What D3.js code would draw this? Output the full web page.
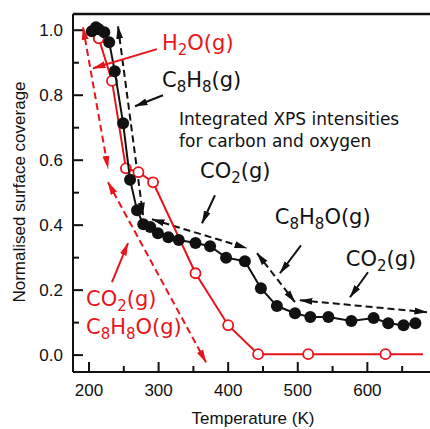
<!DOCTYPE html>
<html>
<head>
<meta charset="utf-8">
<script src="https://cdn.jsdelivr.net/npm/d3@7"></script>
<style>
  body { margin: 0; background: #fff; }
  svg { display: block; }
</style>
</head>
<body>
<div id="chart"></div>
<script>
// integrated XPS intensities (black, filled)
const blackTemp = [204, 210, 214, 222, 229, 237, 249, 259, 269, 278, 288, 299, 314, 329, 353, 374, 397, 424, 447, 470, 496, 518, 544, 577, 609, 630, 652, 669];
const blackCov = [0.997, 1.009, 1.003, 0.994, 0.963, 0.874, 0.714, 0.54, 0.446, 0.403, 0.394, 0.375, 0.363, 0.354, 0.345, 0.335, 0.3, 0.289, 0.206, 0.151, 0.129, 0.117, 0.117, 0.105, 0.114, 0.098, 0.092, 0.098];

// red open circles
const redTemp = [214, 233, 253, 271, 292, 353, 400, 443, 515, 626];
const redCov = [0.975, 0.844, 0.575, 0.563, 0.532, 0.252, 0.092, 0.003, 0.003, 0.003];
const redTail = [680, 0.003];

const xTicks = [200, 300, 400, 500, 600];
const xMinor = [250, 350, 450, 550, 650];
const yTicks = [0, 0.2, 0.4, 0.6, 0.8, 1.0];
const yMinor = [0.1, 0.3, 0.5, 0.7, 0.9];

// annotation arrows: [t1, v1, t2, v2]
const blackDashed = [
  [241.7, 1.012, 277.6, 0.431],
  [290.5, 0.418, 427, 0.329],
  [441.4, 0.314, 496, 0.163],
  [503, 0.169, 685.6, 0.132]
];
const blackPointers = [
  [306.3, 0.8, 266.1, 0.766],
  [381, 0.492, 362.4, 0.406],
  [504.6, 0.338, 474.4, 0.252],
  [600.9, 0.255, 575, 0.178]
];
const redDashed = [
  [191.4, 1.009, 227.3, 0.575],
  [227.3, 0.532, 368.1, -0.022]
];
const redPointers = [
  [297.7, 0.942, 205.7, 0.883],
  [233, 0.225, 256, 0.345]
];

// labels: [text, t, v, colour]  (_n = subscript)
const labels = [
  ["H_2O(g)", 304.9, 0.923, "#e8141b"],
  ["C_8H_8(g)", 304.9, 0.809, "#111"],
  ["CO_2(g)", 359.5, 0.529, "#111"],
  ["C_8H_8O(g)", 467, 0.388, "#111"],
  ["CO_2(g)", 569, 0.258, "#111"],
  ["CO_2(g)", 195.7, 0.135, "#e8141b"],
  ["C_8H_8O(g)", 195.7, 0.049, "#e8141b"]
];
const noteLines = ["Integrated XPS intensities", "for carbon and oxygen"];

const width = 430, height = 429;
const red = "#e8141b";

const x = d3.scaleLinear().domain([177, 690]).range([73, 430]);
const y = d3.scaleLinear().domain([-0.052, 1.05]).range([372, 14]);

const svg = d3.select("#chart").append("svg")
  .attr("width", width)
  .attr("height", height)
  .style("font-family", "'Liberation Sans', Arial, sans-serif");

// arrowheads
const defs = svg.append("defs");
[["head-black", "#111"], ["head-red", red]].forEach(([id, c]) => {
  defs.append("marker")
    .attr("id", id)
    .attr("markerUnits", "userSpaceOnUse")
    .attr("viewBox", "0 0 13 8")
    .attr("markerWidth", 13)
    .attr("markerHeight", 8)
    .attr("refX", 12.5)
    .attr("refY", 4)
    .attr("orient", "auto-start-reverse")
    .append("path")
    .attr("d", "M0,0.5 L13,4 L0,7.5 Z")
    .attr("fill", c);
});

// frame
svg.append("line").attr("x1", x.range()[0]).attr("x2", width).attr("y1", y.range()[1]).attr("y2", y.range()[1])
  .attr("stroke", "#111").attr("stroke-width", 2.5);
svg.append("line").attr("x1", x.range()[0]).attr("x2", x.range()[0]).attr("y1", y.range()[1]).attr("y2", y.range()[0])
  .attr("stroke", "#111").attr("stroke-width", 2);
svg.append("line").attr("x1", x.range()[0]).attr("x2", width).attr("y1", y.range()[0]).attr("y2", y.range()[0])
  .attr("stroke", "#111").attr("stroke-width", 2);

// x ticks (inward)
const xAxis = svg.append("g");
xAxis.selectAll(".maj").data(xTicks).enter().append("line")
  .attr("x1", d => x(d)).attr("x2", d => x(d))
  .attr("y1", y.range()[0]).attr("y2", y.range()[0] - 10)
  .attr("stroke", "#111").attr("stroke-width", 2);
xAxis.selectAll(".min").data(xMinor).enter().append("line")
  .attr("x1", d => x(d)).attr("x2", d => x(d))
  .attr("y1", y.range()[0]).attr("y2", y.range()[0] - 6)
  .attr("stroke", "#111").attr("stroke-width", 2);
xAxis.selectAll("text").data(xTicks).enter().append("text")
  .attr("x", d => x(d)).attr("y", 396)
  .attr("text-anchor", "middle")
  .style("font-size", "17px")
  .attr("fill", "#111")
  .text(d => d);

// y ticks (inward)
const yAxis = svg.append("g");
yAxis.selectAll(".maj").data(yTicks).enter().append("line")
  .attr("x1", x.range()[0]).attr("x2", x.range()[0] + 10)
  .attr("y1", d => y(d)).attr("y2", d => y(d))
  .attr("stroke", "#111").attr("stroke-width", 2);
yAxis.selectAll(".min").data(yMinor).enter().append("line")
  .attr("x1", x.range()[0]).attr("x2", x.range()[0] + 6)
  .attr("y1", d => y(d)).attr("y2", d => y(d))
  .attr("stroke", "#111").attr("stroke-width", 2);
yAxis.selectAll("text").data(yTicks).enter().append("text")
  .attr("x", 63).attr("y", d => y(d) + 6)
  .attr("text-anchor", "end")
  .style("font-size", "17px")
  .attr("fill", "#111")
  .text(d => d3.format(".1f")(d));

// axis titles
svg.append("text")
  .attr("x", 253).attr("y", 424)
  .attr("text-anchor", "middle")
  .style("font-size", "17px")
  .attr("fill", "#111")
  .text("Temperature (K)");
svg.append("text")
  .attr("transform", "translate(25,192) rotate(-90)")
  .attr("text-anchor", "middle")
  .style("font-size", "17px")
  .attr("fill", "#111")
  .text("Normalised surface coverage");

// dashed arrows
function drawArrows(list, colour, dashed, marker) {
  svg.append("g").selectAll("line").data(list).enter().append("line")
    .attr("x1", d => x(d[0])).attr("y1", d => y(d[1]))
    .attr("x2", d => x(d[2])).attr("y2", d => y(d[3]))
    .attr("stroke", colour)
    .attr("stroke-width", 2)
    .attr("stroke-dasharray", dashed ? "7,4" : null)
    .attr("marker-end", `url(#${marker})`)
    .attr("marker-start", dashed ? `url(#${marker})` : null);
}
drawArrows(redDashed, red, true, "head-red");
drawArrows(blackDashed, "#111", true, "head-black");

// red line + open circles
const lineGen = d3.line().x(d => x(d[0])).y(d => y(d[1]));
const redPts = redTemp.map((t, i) => [t, redCov[i]]);
svg.append("path")
  .datum(redPts.concat([redTail]))
  .attr("d", lineGen)
  .attr("fill", "none")
  .attr("stroke", red)
  .attr("stroke-width", 2);
svg.append("g").selectAll("circle").data(redPts).enter().append("circle")
  .attr("cx", d => x(d[0])).attr("cy", d => y(d[1]))
  .attr("r", 5)
  .attr("fill", "#fff")
  .attr("stroke", red)
  .attr("stroke-width", 1.8);

// black line + filled circles
const blackPts = blackTemp.map((t, i) => [t, blackCov[i]]);
svg.append("path")
  .datum(blackPts)
  .attr("d", lineGen)
  .attr("fill", "none")
  .attr("stroke", "#111")
  .attr("stroke-width", 2);
svg.append("g").selectAll("circle").data(blackPts).enter().append("circle")
  .attr("cx", d => x(d[0])).attr("cy", d => y(d[1]))
  .attr("r", 6)
  .attr("fill", "#111");

// pointer arrows
drawArrows(blackPointers, "#111", false, "head-black");
drawArrows(redPointers, red, false, "head-red");

// labels with subscripts
const labelG = svg.append("g").style("font-family", "'DejaVu Sans', sans-serif");
labels.forEach(([txt, t, v, c]) => {
  const el = labelG.append("text")
    .attr("x", x(t)).attr("y", y(v))
    .attr("fill", c)
    .style("font-size", "21px");
  txt.split(/(_\d)/).filter(s => s.length).forEach(part => {
    if (part[0] === "_") {
      el.append("tspan").attr("dy", 5).style("font-size", "15px").text(part[1]);
    } else {
      el.append("tspan").attr("dy", el.node().childNodes.length ? -5 : 0).text(part);
    }
  });
});

labelG.selectAll(".note").data(noteLines).enter().append("text")
  .attr("x", 179)
  .attr("y", (d, i) => 125 + i * 22)
  .attr("fill", "#111")
  .style("font-size", "17px")
  .text(d => d);
</script>
</body>
</html>
